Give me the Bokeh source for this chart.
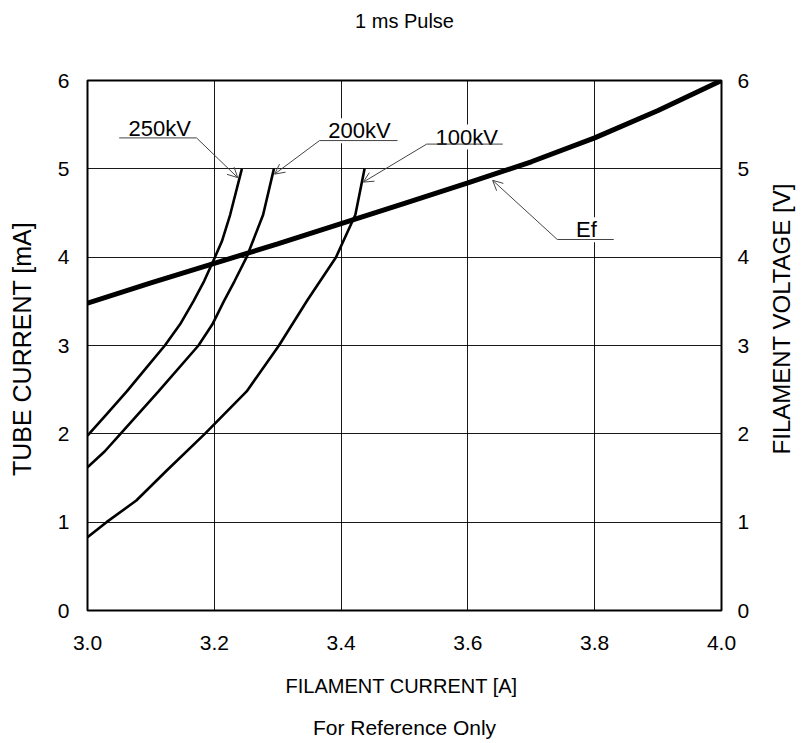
import math
from bokeh.plotting import figure
from bokeh.layouts import row
from bokeh.models import Range1d, LinearAxis, FixedTicker, Label, Arrow, OpenHead, Title, NumeralTickFormatter
from bokeh.core.properties import value
from bokeh.embed import file_html
from bokeh.resources import INLINE

FONT = "Liberation Sans"

# ---- data ----
x_ticks = [3.0, 3.2, 3.4, 3.6, 3.8, 4.0]
y_ticks = [0, 1, 2, 3, 4, 5, 6]

kv250_x = [3.000, 3.030, 3.062, 3.093, 3.122, 3.146, 3.167, 3.184, 3.201, 3.212, 3.225, 3.2435]
kv250_y = [1.98, 2.22, 2.48, 2.75, 3.00, 3.24, 3.50, 3.73, 4.00, 4.18, 4.48, 5.00]

kv200_x = [3.000, 3.027, 3.052, 3.112, 3.175, 3.197, 3.215, 3.232, 3.251, 3.277, 3.294]
kv200_y = [1.62, 1.80, 2.00, 2.48, 3.00, 3.24, 3.50, 3.73, 4.00, 4.48, 5.00]

kv100_x = [3.000, 3.030, 3.077, 3.125, 3.185, 3.251, 3.302, 3.347, 3.392, 3.4225, 3.437]
kv100_y = [0.83, 1.00, 1.245, 1.585, 2.00, 2.48, 3.00, 3.515, 4.00, 4.48, 5.00]

ef_x = [3.0, 3.1, 3.2, 3.3, 3.4, 3.5, 3.6, 3.7, 3.8, 3.9, 4.0]
ef_y = [3.48, 3.71, 3.93, 4.15, 4.38, 4.61, 4.84, 5.08, 5.35, 5.66, 6.0]

# ---- main figure ----
p = figure(width=762, height=742, x_range=Range1d(3.0, 4.0), y_range=Range1d(0, 6),
           output_backend="svg", toolbar_location=None, title=None,
           min_border_left=87, min_border_right=41, min_border_top=80, min_border_bottom=132)
p.extra_y_ranges = {"ef": Range1d(0, 6)}
p.background_fill_color = "white"
p.border_fill_color = "white"
p.outline_line_color = "black"
p.outline_line_width = 2

# title (with an empty spacer between it and the frame)
p.add_layout(Title(text=" ", text_font_size="2px", standoff=45), "above")
p.add_layout(Title(text="1 ms Pulse", align="center", text_font=FONT, standoff=0,
                   text_font_size="20px", text_font_style="normal", text_color="black"), "above")

# axes
p.xaxis.ticker = FixedTicker(ticks=x_ticks)
p.xaxis.formatter = NumeralTickFormatter(format="0.0")
p.yaxis.ticker = FixedTicker(ticks=y_ticks)

right = LinearAxis(y_range_name="ef", ticker=FixedTicker(ticks=y_ticks))
p.add_layout(right, "right")
left = p.yaxis[0]
bottom = p.xaxis[0]

for ax in [bottom, left, right]:
    ax.axis_line_color = None
    ax.major_tick_in = 0
    ax.major_tick_out = 0
    ax.minor_tick_in = 0
    ax.minor_tick_out = 0
    ax.major_label_text_font = FONT
    ax.major_label_text_font_size = "21px"
    ax.major_label_text_color = "black"
    ax.axis_label_text_font = FONT
    ax.axis_label_text_font_size = "25px"
    ax.axis_label_text_font_style = "normal"
    ax.axis_label_text_color = "black"

bottom.major_label_standoff = 25
left.major_label_standoff = 18
right.major_label_standoff = 16

bottom.axis_label = "FILAMENT CURRENT  [A]"
bottom.axis_label_text_font_size = "20px"
bottom.axis_label_standoff = 22

left.axis_label = "TUBE CURRENT  [mA]"
left.axis_label_standoff = 19

# footer (with a spacer below the x axis)
p.add_layout(Title(text=" ", text_font_size="2px", standoff=10), "below")
p.add_layout(Title(text="For Reference Only", align="center", text_font=FONT, standoff=0,
                   text_font_size="21px", text_font_style="normal", text_color="black"), "below")

# grid
for g in [p.xgrid, p.ygrid]:
    g.grid_line_color = "black"
    g.grid_line_width = 1
    g.grid_line_alpha = 0.9

# curves
p.line(kv250_x, kv250_y, line_width=2.6, line_color="black")
p.line(kv200_x, kv200_y, line_width=2.6, line_color="black")
p.line(kv100_x, kv100_y, line_width=2.6, line_color="black")
p.line(ef_x, ef_y, line_width=5, line_color="black", y_range_name="ef")

# annotations: (text, text_x, text_baseline_y, leader_start_x, underline_other_x, underline_y, tip_x, tip_y)
notes = [
    ("250kV", 3.114, 5.46, 3.172, 3.050, 5.35, 3.237, 4.90),
    ("200kV", 3.429, 5.43, 3.366, 3.489, 5.32, 3.295, 4.94),
    ("100kV", 3.598, 5.36, 3.535, 3.655, 5.28, 3.435, 4.85),
    ("Ef", 3.787, 4.31, 3.741, 3.830, 4.20, 3.639, 4.87),
]
for t, tx, ty, ux0, ux1, uy, ax_, ay_ in notes:
    p.add_layout(Label(x=tx, y=ty, text=t, text_align="center", text_baseline="alphabetic",
                       text_font=FONT, text_font_size="22px", text_color="black",
                       background_fill_color="white", padding=0))
for t, tx, ty, ux0, ux1, uy, ax_, ay_ in notes:
    p.add_layout(Arrow(end=None, x_start=ux0, y_start=uy, x_end=ux1, y_end=uy,
                       line_width=1, line_color="#444"))
    p.add_layout(Arrow(end=OpenHead(size=10, line_width=1, line_color="#444"),
                       x_start=ux0, y_start=uy, x_end=ax_, y_end=ay_,
                       line_width=1, line_color="#444"))

# ---- right-hand axis title (reads bottom to top) ----
p2 = figure(width=40, height=742, x_range=Range1d(0, 40), y_range=Range1d(0, 742),
            output_backend="svg", toolbar_location=None, title=None,
            x_axis_type=None, y_axis_type=None,
            min_border_left=0, min_border_right=0, min_border_top=0, min_border_bottom=0)
p2.outline_line_color = None
p2.xgrid.visible = False
p2.ygrid.visible = False
p2.text(x=[19], y=[413], text=["FILAMENT VOLTAGE  [V]"], angle=math.pi / 2,
        text_align="center", text_baseline="middle", text_font=value(FONT),
        text_font_size="24px", text_color="black")

layout = row(p, p2)
open("out.html", "w").write(file_html(layout, INLINE))
